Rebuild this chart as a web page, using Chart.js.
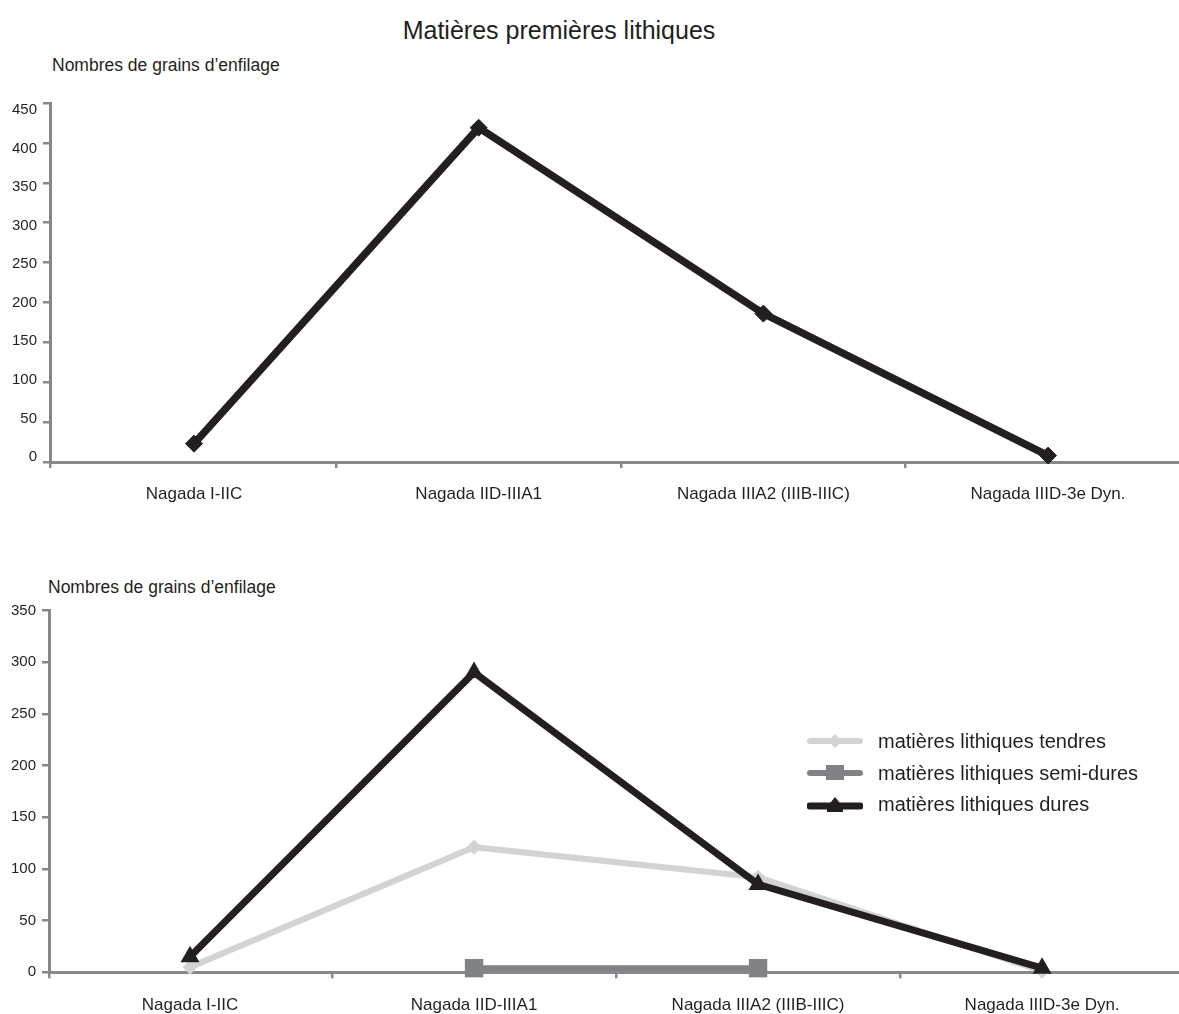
<!DOCTYPE html>
<html>
<head>
<meta charset="utf-8">
<script src="https://cdn.jsdelivr.net/npm/chart.js@4/dist/chart.umd.min.js"></script>
<style>
  html, body { margin: 0; padding: 0; background: #fff; overflow: hidden; }
  body { width: 1179px; height: 1014px; position: relative; font-family: "Liberation Sans", Arial, sans-serif; color: #231f20; }
  .txt { position: absolute; white-space: nowrap; line-height: 1; }
  canvas { position: absolute; left: 0; }
  .leg { position: absolute; left: 807px; width: 56px; height: 20px; }
</style>
</head>
<body>
<div class="txt" id="title" style="left:0;width:1118px;text-align:center;top:18px;font-size:25px;">Matières premières lithiques</div>
<div class="txt" style="left:52px;top:56.5px;font-size:17.5px;">Nombres de grains d’enfilage</div>
<canvas id="c1" width="1179" height="530" style="top:0"></canvas>
<div class="txt" style="left:48px;top:578.5px;font-size:17.5px;">Nombres de grains d’enfilage</div>
<canvas id="c2" width="1179" height="494" style="top:520px"></canvas>

<svg class="leg" style="top:731px" viewBox="0 0 56 20"><line x1="3" y1="10" x2="53" y2="10" stroke="#d1d3d4" stroke-width="6" stroke-linecap="round"/><polygon points="28,3 35,10 28,17 21,10" fill="#d1d3d4"/></svg>
<div class="txt" style="left:878px;top:731.4px;font-size:20px;">matières lithiques tendres</div>
<svg class="leg" style="top:763px" viewBox="0 0 56 20"><line x1="3" y1="10" x2="53" y2="10" stroke="#808285" stroke-width="6" stroke-linecap="round"/><rect x="19" y="2" width="18" height="15" fill="#808285"/></svg>
<div class="txt" style="left:878px;top:763px;font-size:20px;">matières lithiques semi-dures</div>
<svg class="leg" style="top:795px" viewBox="0 0 56 20"><line x1="3" y1="11" x2="53" y2="11" stroke="#231f20" stroke-width="7" stroke-linecap="round"/><polygon points="28,2 37,13 19,13" fill="#231f20"/><rect x="20" y="10" width="16" height="7" fill="#231f20"/></svg>
<div class="txt" style="left:878px;top:794px;font-size:20px;">matières lithiques dures</div>

<script>
// ---------------- DATA ----------------
const categories = ['Nagada I-IIC', 'Nagada IID-IIIA1', 'Nagada IIIA2 (IIIB-IIIC)', 'Nagada IIID-3e Dyn.'];
const totalValues = [23, 419, 186, 8];
const tendresValues = [5, 121, 92, 1];
const semiDuresValues = [null, 4, 4, null];
const duresValues = [15, 290, 85, 4];
const yTicksTop = [0, 50, 100, 150, 200, 250, 300, 350, 400, 450];
const yTicksBottom = [0, 50, 100, 150, 200, 250, 300, 350];
const seriesLabels = ['matières lithiques tendres', 'matières lithiques semi-dures', 'matières lithiques dures'];

// ---------------- STYLE ----------------
const FONT = '"Liberation Sans", Arial, sans-serif';
const AXIS = '#87888c';
const INK = '#231f20';
const LIGHT = '#d1d3d4';
const MID = '#808285';

// In the original top chart, the value labels drift a few pixels off their tick marks
// (about +7px at the top of the axis, about -5px at the bottom).
function topLabelShift(v) { return -5 + 12 * v / 450; }
function shiftOf(ctx, shiftFn) {
  if (!shiftFn || !ctx.tick) return 0;
  return shiftFn(ctx.tick.value);
}

function toPoints(vals) {
  const pts = [];
  vals.forEach((v, i) => { if (v !== null && v !== undefined) pts.push({ x: i, y: v }); });
  return pts;
}

function xScale(min, max, height, pad) {
  return {
    type: 'linear', min: min, max: max,
    afterBuildTicks: s => {
      const vals = [min];
      for (let i = 0; i < categories.length; i++) {
        vals.push(i);
        if (i + 0.5 < max) vals.push(i + 0.5);
      }
      s.ticks = vals.map(v => ({ value: v }));
    },
    afterFit: s => { s.height = height; s.paddingLeft = 0; s.paddingRight = 0; },
    ticks: {
      autoSkip: false, maxRotation: 0, minRotation: 0, padding: pad,
      font: { family: FONT, size: 17 }, color: INK,
      callback: v => Number.isInteger(v) ? categories[v] : ''
    },
    grid: {
      drawOnChartArea: false, drawTicks: true, tickLength: 6, lineWidth: 2.5,
      color: c => (c.tick && Number.isInteger(c.tick.value)) ? 'rgba(0,0,0,0)' : AXIS
    },
    border: { color: AXIS, width: 3 }
  };
}

function yScale(maxV, tickList, shiftFn) {
  return {
    type: 'linear', min: 0, max: maxV,
    afterBuildTicks: s => { s.ticks = tickList.map(v => ({ value: v })); },
    afterFit: s => { s.width = 50; s.paddingTop = 0; s.paddingBottom = 0; },
    ticks: {
      padding: 6, color: INK,
      font: ctx => {
        const d = Math.abs(shiftOf(ctx, shiftFn));
        return { family: FONT, size: 15, lineHeight: d > 0.5 ? (2 * d) + 'px' : 1.2 };
      },
      callback: v => {
        if (!shiftFn) return String(v);
        const d = shiftFn(v);
        if (Math.abs(d) <= 0.5) return String(v);
        return d > 0 ? ['', String(v)] : [String(v), ''];
      }
    },
    grid: { drawOnChartArea: false, drawTicks: true, tickLength: 7, lineWidth: 2.5, color: AXIS },
    border: { color: AXIS, width: 3 }
  };
}

const common = {
  responsive: false, animation: false, devicePixelRatio: 1,
  plugins: { legend: { display: false }, tooltip: { enabled: false }, title: { display: false } },
  events: []
};

// top chart: chart area left 50, right 1179, top 103, bottom 462
new Chart(document.getElementById('c1'), {
  type: 'line',
  data: {
    datasets: [{
      label: 'total',
      data: toPoints(totalValues),
      borderColor: INK, backgroundColor: INK, borderWidth: 7.5,
      pointStyle: 'rectRot', pointRadius: 8.5, pointBorderWidth: 1, pointBorderColor: INK,
      tension: 0, clip: false
    }]
  },
  options: Object.assign({}, common, {
    layout: { autoPadding: false, padding: { left: 0, right: 0, top: 103, bottom: 0 } },
    scales: {
      x: xScale(-0.5058, 3.460, 68, 16),
      y: yScale(450, yTicksTop, topLabelShift)
    }
  })
});

// bottom chart (canvas top 520): chart area left 49, right 1179, top 610.4, bottom 972.3
new Chart(document.getElementById('c2'), {
  type: 'line',
  data: {
    datasets: [
      {
        label: seriesLabels[0], data: toPoints(tendresValues), order: 2,
        borderColor: LIGHT, backgroundColor: LIGHT, borderWidth: 6,
        pointStyle: 'rectRot', pointRadius: 7.5, pointBorderWidth: 0,
        tension: 0, clip: false
      },
      {
        label: seriesLabels[1], data: toPoints(semiDuresValues), order: 1,
        borderColor: MID, backgroundColor: MID, borderWidth: 6,
        pointStyle: 'rect', pointRadius: 13, pointBorderWidth: 0,
        tension: 0, clip: false
      },
      {
        label: seriesLabels[2], data: toPoints(duresValues), order: 0,
        borderColor: INK, backgroundColor: INK, borderWidth: 7,
        pointStyle: 'triangle', pointRadius: 11, pointBorderWidth: 0,
        tension: 0, clip: false
      }
    ]
  },
  options: Object.assign({}, common, {
    layout: { autoPadding: false, padding: { left: -1, right: 0, top: 90.4, bottom: 0 } },
    scales: {
      x: xScale(-0.4965, 3.482, 41.7, 17),
      y: yScale(350, yTicksBottom, null)
    }
  })
});
</script>
</body>
</html>
